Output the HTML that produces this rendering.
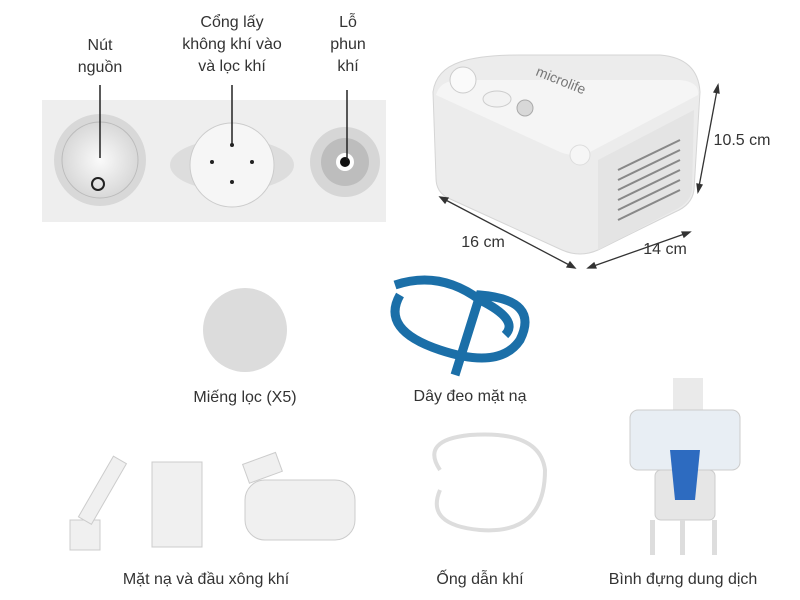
<!DOCTYPE html>
<html><head><meta charset="utf-8"><style>
body{margin:0;width:800px;height:600px;background:#fff;position:relative;overflow:hidden;font-family:"Liberation Sans",sans-serif;color:#333}
.t{position:absolute;font-size:16px;text-align:center;line-height:22px;transform:translateX(-50%);white-space:nowrap}
</style></head><body>
<svg width="800" height="600" style="position:absolute;left:0;top:0">
<defs>
<radialGradient id="g1"><stop offset="0" stop-color="#fafafa"/><stop offset="1" stop-color="#d8d8d8"/></radialGradient>
</defs>
<rect x="42" y="100" width="344" height="122" fill="#eeeeee"/>
<circle cx="100" cy="160" r="46" fill="#d8d8d8"/><circle cx="100" cy="160" r="38" fill="url(#g1)" stroke="#bbb"/>
<circle cx="98" cy="184" r="6" fill="none" stroke="#222" stroke-width="2"/>
<ellipse cx="232" cy="165" rx="62" ry="26" fill="#ddd"/><circle cx="232" cy="165" r="42" fill="#f6f6f6" stroke="#ccc"/>
<circle cx="212" cy="162" r="2" fill="#222"/><circle cx="252" cy="162" r="2" fill="#222"/><circle cx="232" cy="182" r="2" fill="#222"/><circle cx="232" cy="145" r="2" fill="#222"/>
<circle cx="345" cy="162" r="35" fill="#d6d6d6"/><circle cx="345" cy="162" r="24" fill="#bdbdbd"/><circle cx="345" cy="162" r="9" fill="#fff"/><circle cx="345" cy="162" r="5" fill="#111"/>
<line x1="100" y1="85" x2="100" y2="158" stroke="#222" stroke-width="1.5"/>
<line x1="232" y1="85" x2="232" y2="145" stroke="#222" stroke-width="1.5"/>
<line x1="347" y1="90" x2="347" y2="160" stroke="#222" stroke-width="1.5"/>
<path d="M433 92 Q436 70 460 62 Q480 55 520 55 L660 55 Q698 58 700 92 L694 190 Q692 205 675 212 L598 250 Q580 258 562 250 L448 198 Q436 192 436 178 Z" fill="#ececec" stroke="#d5d5d5"/>
<path d="M436 95 Q440 80 460 80 L680 80 Q700 82 698 95 L590 152 Q575 158 560 152 Z" fill="#f5f5f5"/>
<path d="M598 160 L694 110 L692 190 Q690 203 675 210 L598 250 Z" fill="#e4e4e4"/>
<g stroke="#888" stroke-width="2">
<line x1="618" y1="170" x2="680" y2="140"/><line x1="618" y1="180" x2="680" y2="150"/><line x1="618" y1="190" x2="680" y2="160"/><line x1="618" y1="200" x2="680" y2="170"/><line x1="618" y1="210" x2="680" y2="180"/><line x1="618" y1="220" x2="680" y2="190"/></g>
<circle cx="463" cy="80" r="13" fill="#fafafa" stroke="#ccc"/><ellipse cx="497" cy="99" rx="14" ry="8" fill="#f2f2f2" stroke="#ccc"/><circle cx="525" cy="108" r="8" fill="#d8d8d8" stroke="#aaa"/>
<circle cx="580" cy="155" r="10" fill="#f6f6f6" stroke="#ddd"/>
<text x="535" y="75" font-size="14" fill="#777" transform="rotate(22 535 75)" font-family="Liberation Sans">microlife</text>
<g stroke="#333" stroke-width="1.3" fill="#333">
<line x1="440" y1="197" x2="575" y2="268"/><path d="M440 197 l8 1 l-3 5z"/><path d="M575 268 l-8 -1 l3 -5z"/>
<line x1="588" y1="268" x2="690" y2="232"/><path d="M588 268 l6 -5 l2 5z"/><path d="M690 232 l-6 5 l-2 -5z"/>
<line x1="718" y1="85" x2="698" y2="192"/><path d="M718 85 l1 8 l-5 -1z"/><path d="M698 192 l-1 -8 l5 1z"/>
</g>
<circle cx="245" cy="330" r="42" fill="#dcdcdc"/>
<path d="M395 285 Q440 270 480 300 Q520 320 505 335 M400 295 Q380 330 440 350 Q500 370 520 340 Q540 300 480 295 L455 375" fill="none" stroke="#1b6fa8" stroke-width="9"/>
<g fill="#f0f0f0" stroke="#ccc"><rect x="70" y="520" width="30" height="30"/><rect x="95" y="455" width="15" height="70" transform="rotate(30 102 490)"/>
<rect x="152" y="462" width="50" height="85"/><rect x="245" y="480" width="110" height="60" rx="20"/><rect x="245" y="458" width="35" height="20" transform="rotate(-20 262 468)"/></g>
<path d="M440 470 Q420 440 470 435 Q540 430 545 470 Q545 535 480 530 Q425 525 440 490" fill="none" stroke="#ddd" stroke-width="4"/>
<rect x="673" y="378" width="30" height="40" fill="#eaeaea"/><rect x="630" y="410" width="110" height="60" rx="8" fill="#e8eef4" stroke="#ccc"/>
<rect x="655" y="470" width="60" height="50" rx="6" fill="#e6e6e6" stroke="#ccc"/><path d="M670 450 L700 450 L695 500 L675 500Z" fill="#2d6bc0"/>
<rect x="650" y="520" width="5" height="35" fill="#ddd"/><rect x="680" y="520" width="5" height="35" fill="#ddd"/><rect x="712" y="520" width="5" height="35" fill="#ddd"/>
</svg>
<div class="t" style="left:100px;top:35px">Nút<br>nguồn</div>
<div class="t" style="left:232px;top:12px">Cổng lấy<br>không khí vào<br>và lọc khí</div>
<div class="t" style="left:348px;top:12px">Lỗ<br>phun<br>khí</div>
<div class="t" style="left:483px;top:232px">16 cm</div>
<div class="t" style="left:665px;top:239px">14 cm</div>
<div class="t" style="left:742px;top:130px">10.5 cm</div>
<div class="t" style="left:245px;top:387px">Miếng lọc (X5)</div>
<div class="t" style="left:470px;top:386px">Dây đeo mặt nạ</div>
<div class="t" style="left:206px;top:569px">Mặt nạ và đầu xông khí</div>
<div class="t" style="left:480px;top:569px">Ống dẫn khí</div>
<div class="t" style="left:683px;top:569px">Bình đựng dung dịch</div>
</body></html>
